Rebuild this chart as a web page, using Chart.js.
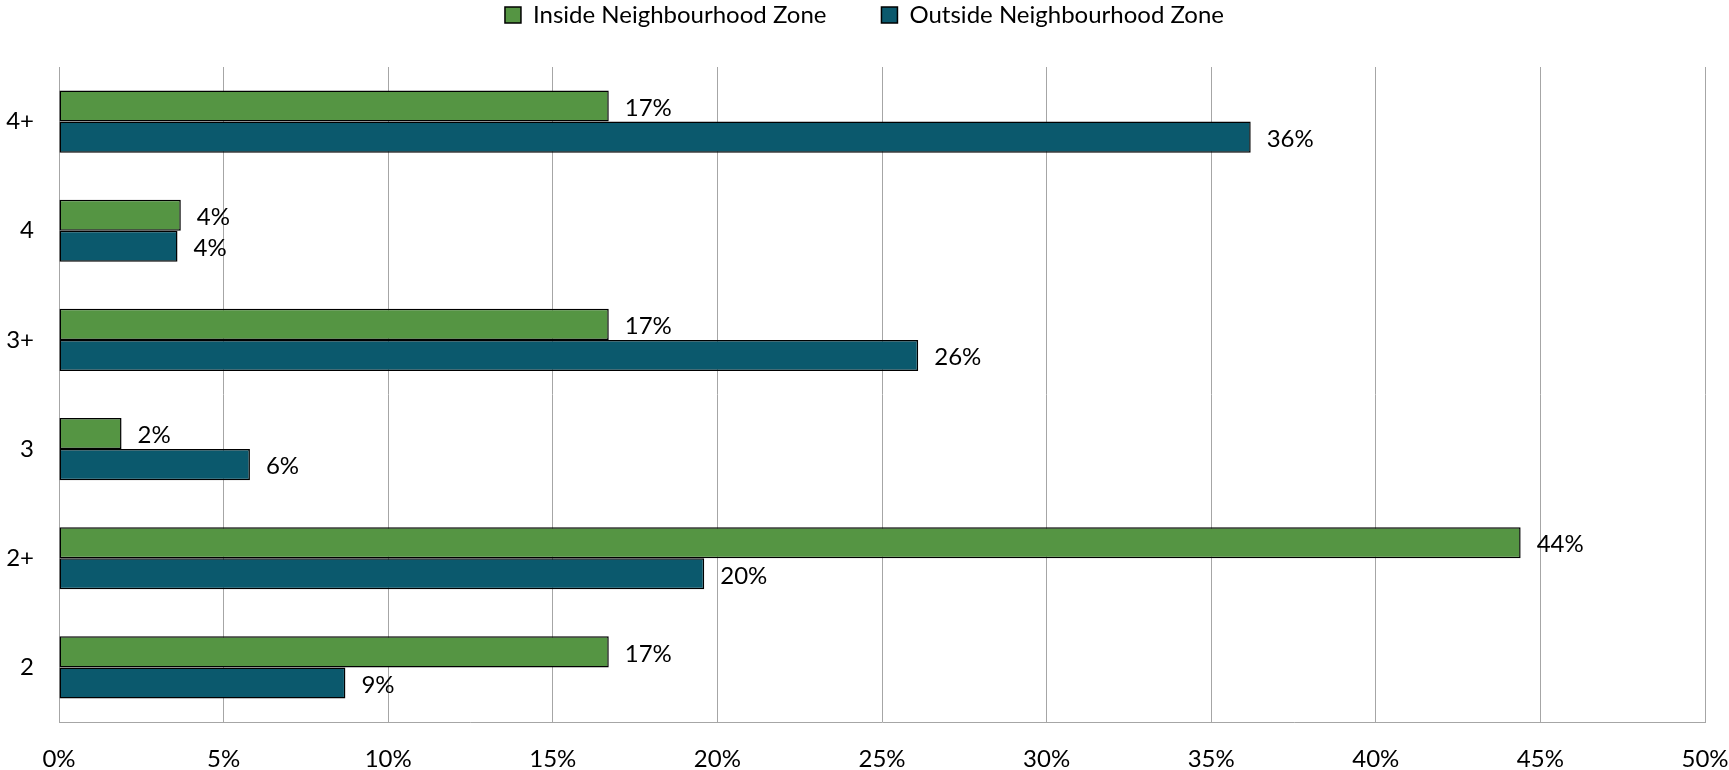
<!DOCTYPE html>
<html>
<head>
<meta charset="utf-8">
<script src="https://cdn.jsdelivr.net/npm/chart.js@4/dist/chart.umd.min.js"></script>
<style>
  html, body { margin: 0; padding: 0; background: #fff; }
  #wrap { width: 1729px; height: 770px; position: relative; }
</style>
</head>
<body>
<div id="wrap"><canvas id="chart"></canvas></div>
<script>
// categories, top to bottom
const categories = ["4+", "4", "3+", "3", "2+", "2"];
const insideZone = [16.7, 3.7, 16.7, 1.9, 44.4, 16.7];
const outsideZone = [36.2, 3.6, 26.1, 5.8, 19.6, 8.7];
const xTicks = [0, 5, 10, 15, 20, 25, 30, 35, 40, 45, 50];

const FONT = "Lato, 'Open Sans', sans-serif";
const FONT_SIZE = 24;

// draws the percentage label at the end of each bar
const barLabels = {
  id: "barLabels",
  afterDatasetsDraw(chart) {
    const ctx = chart.ctx;
    ctx.save();
    ctx.font = FONT_SIZE + "px " + FONT;
    ctx.fillStyle = "#000";
    ctx.textAlign = "left";
    ctx.textBaseline = "middle";
    chart.data.datasets.forEach((ds, i) => {
      const meta = chart.getDatasetMeta(i);
      meta.data.forEach((bar, j) => {
        ctx.fillText(Math.round(ds.data[j]) + "%", bar.x + 16, bar.y + 2);
      });
    });
    ctx.restore();
  }
};

// extra room under the legend
const legendSpace = {
  id: "legendSpace",
  beforeInit(chart) {
    const fit = chart.legend.fit;
    chart.legend.fit = function () {
      fit.bind(chart.legend)();
      this.height += 30;
    };
  }
};

new Chart(document.getElementById("chart").getContext("2d"), {
  type: "bar",
  data: {
    labels: categories,
    datasets: [
      {
        label: "Inside Neighbourhood Zone",
        data: insideZone,
        backgroundColor: "#559543",
        borderColor: "#000",
        borderWidth: 1.5,
        borderSkipped: false
      },
      {
        label: "Outside Neighbourhood Zone",
        data: outsideZone,
        backgroundColor: "#0b596d",
        borderColor: "#000",
        borderWidth: 1.5,
        borderSkipped: false
      }
    ]
  },
  options: {
    indexAxis: "y",
    responsive: true,
    maintainAspectRatio: false,
    animation: false,
    categoryPercentage: 0.57,
    barPercentage: 1,
    layout: { padding: { top: -52, right: 0, left: 0, bottom: 0 } },
    scales: {
      x: {
        min: 0,
        max: 50,
        afterBuildTicks: axis => { axis.ticks = xTicks.map(v => ({ value: v })); },
        afterFit: axis => {
          axis.height = 48;
          axis.paddingRight = 24;
          axis.paddingLeft = 0;
        },
        grid: { color: "#a6a6a6", lineWidth: 1, drawTicks: false },
        border: { color: "#a6a6a6", width: 1 },
        ticks: {
          color: "#000",
          font: { family: FONT, size: FONT_SIZE },
          padding: 23,
          maxRotation: 0,
          callback: v => v + "%"
        }
      },
      y: {
        afterFit: axis => { axis.width = 59; },
        grid: { display: false, drawTicks: false },
        border: { color: "#a6a6a6", width: 1 },
        ticks: {
          color: "#000",
          font: { family: FONT, size: FONT_SIZE },
          padding: 25
        }
      }
    },
    plugins: {
      legend: {
        display: true,
        position: "top",
        labels: {
          color: "#000",
          font: { family: FONT, size: FONT_SIZE },
          boxWidth: 16,
          boxHeight: 16,
          padding: 55
        }
      },
      tooltip: { enabled: false }
    }
  },
  plugins: [barLabels, legendSpace]
});
</script>
</body>
</html>
